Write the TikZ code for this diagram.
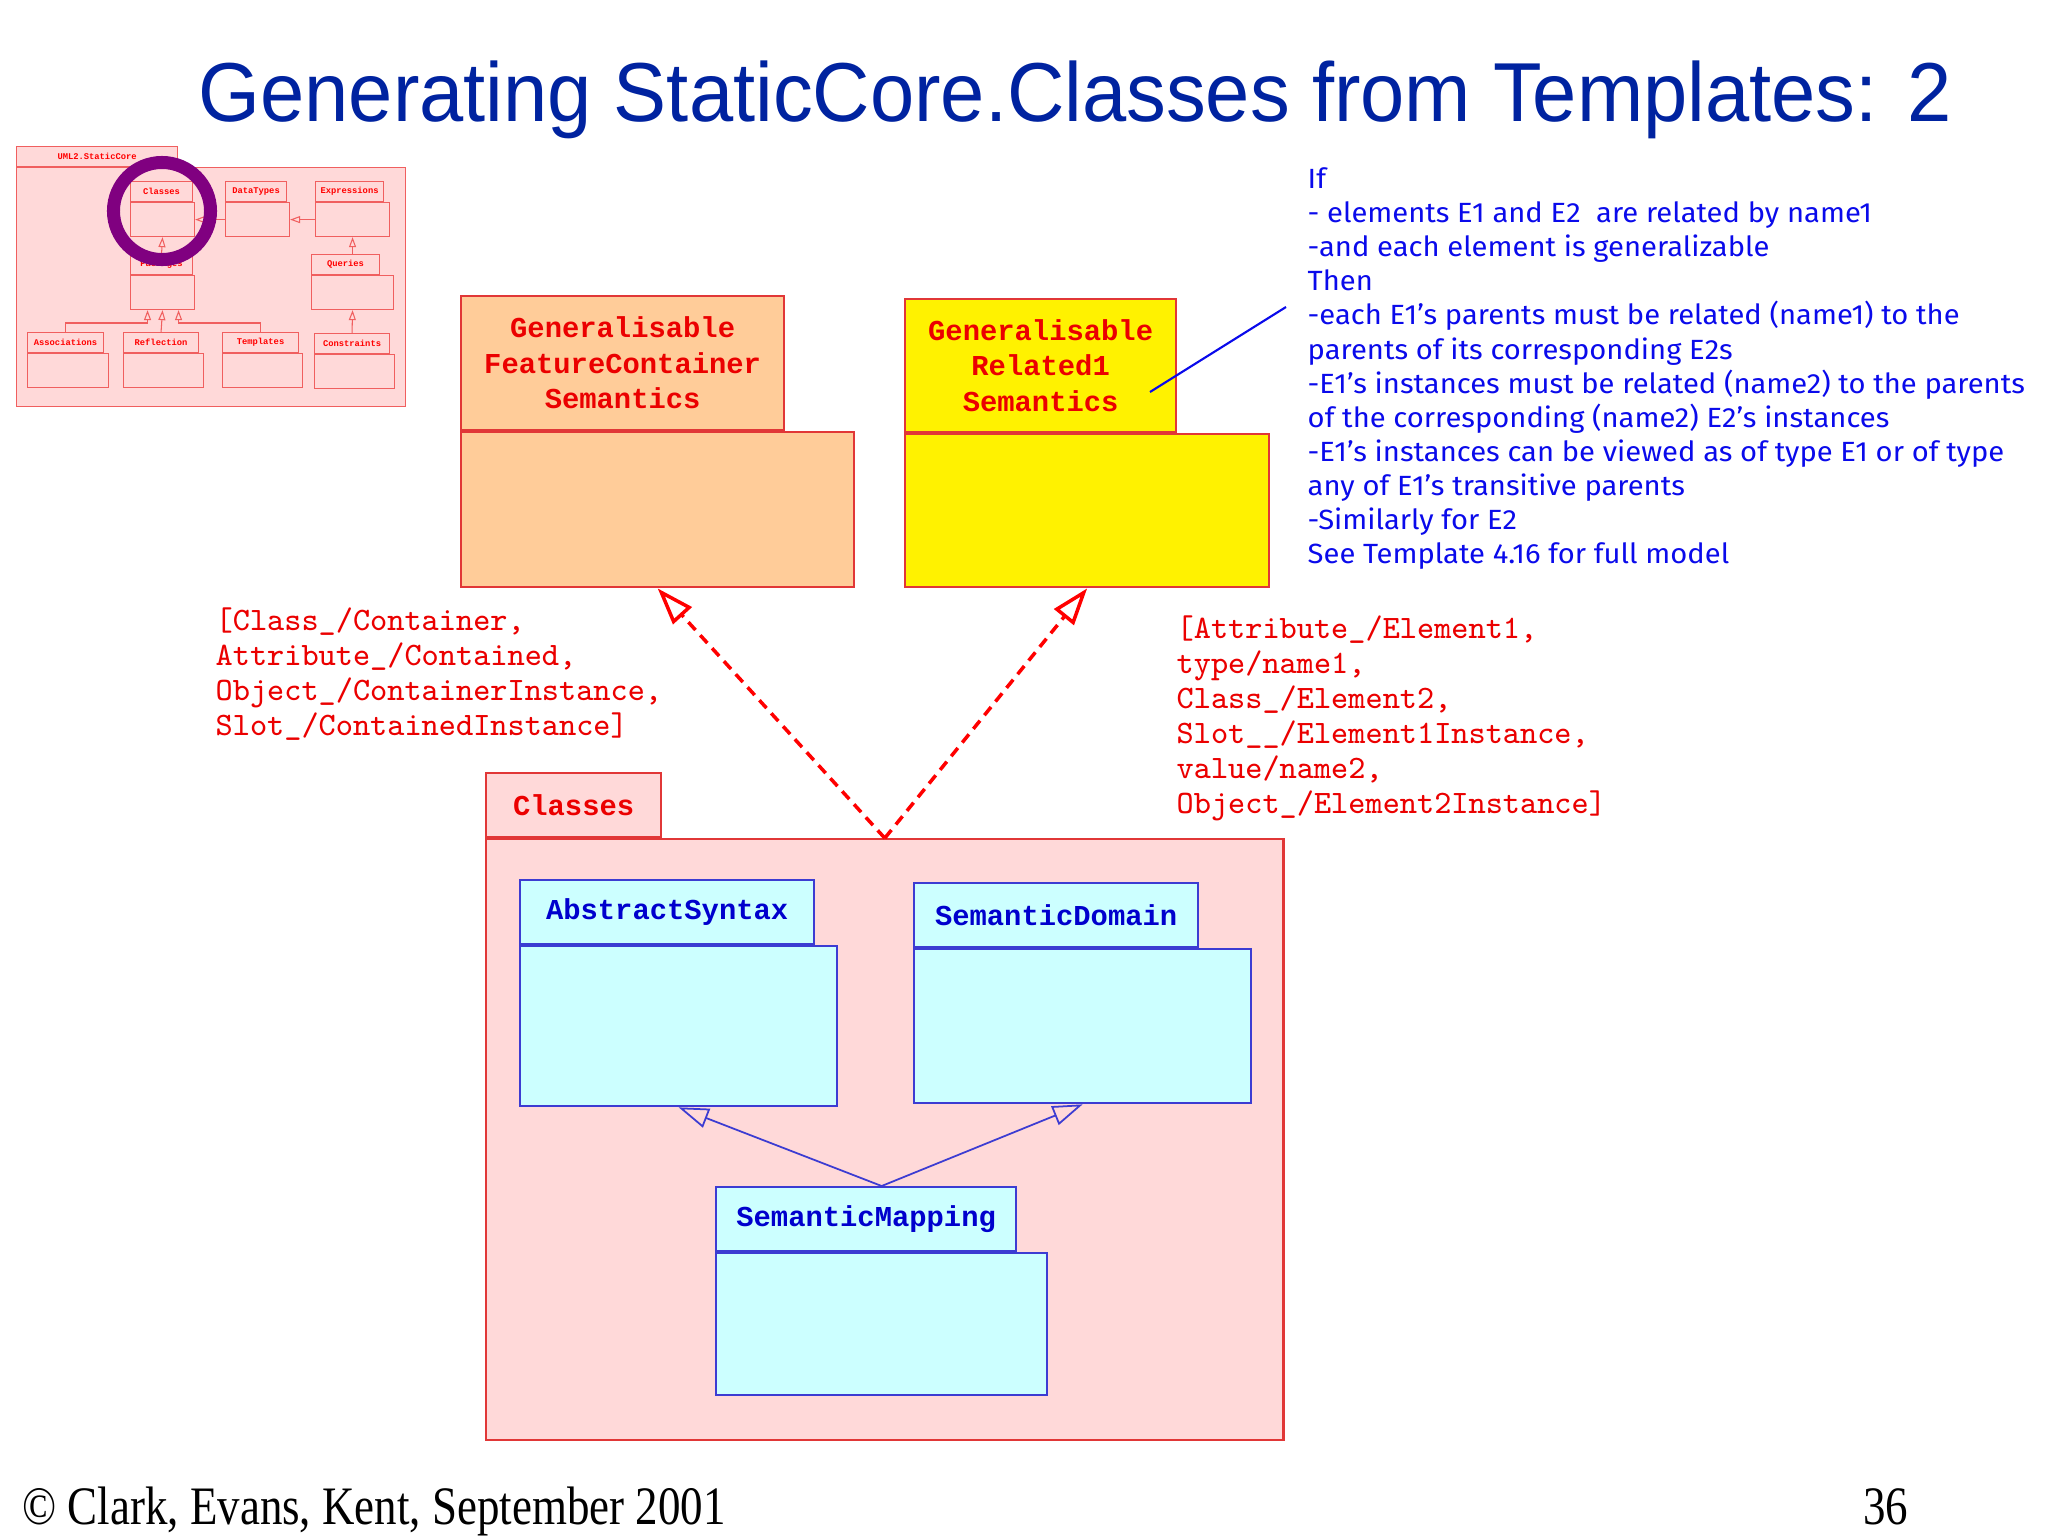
\documentclass[tikz,border=0pt]{standalone}
\usepackage{fontspec}
\setmainfont{Liberation Serif}
\newfontfamily\boldmono{Liberation Mono}
\newfontfamily\titlefont[FakeStretch=0.95]{Liberation Sans}
\newfontfamily\footfont[FakeStretch=0.83]{Liberation Serif}
\newfontfamily\notefont[FakeStretch=1.05]{Fira Sans}
\usetikzlibrary{arrows.meta, calc}
\definecolor{titleblue}{RGB}{0,35,160}
\definecolor{pkgred}{RGB}{225,55,55}
\definecolor{pkgblue}{RGB}{60,60,210}
\definecolor{labelred}{RGB}{235,0,0}
\definecolor{labelblue}{RGB}{0,0,205}
\definecolor{noteblue}{RGB}{10,10,235}
\definecolor{tanfill}{RGB}{255,204,153}
\definecolor{pinkfill}{RGB}{255,217,217}
\definecolor{cyanfill}{RGB}{204,255,255}
\definecolor{ringpurple}{RGB}{128,0,128}
\definecolor{thumbred}{RGB}{240,95,95}

\begin{document}
\begin{tikzpicture}[x=0.01cm, y=-0.01cm,
  pkgtab/.style={draw=pkgred, line width=0.6pt, inner sep=0pt, anchor=north west, align=center, text=labelred, font=\boldmono\bfseries\fontsize{8.2}{10.1}\selectfont},
  pkgbody/.style={draw=pkgred, line width=0.6pt, inner sep=0pt, anchor=north west},
  bluetab/.style={pkgtab, draw=pkgblue, fill=cyanfill, text=labelblue, minimum height=0.64cm},
  bluebody/.style={pkgbody, draw=pkgblue, fill=cyanfill},
  tinytab/.style={draw=thumbred, line width=0.3pt, fill=pinkfill, inner sep=0pt, anchor=north west, minimum height=0.20cm, text=red, font=\boldmono\bfseries\fontsize{2.5}{3}\selectfont},
  tinybody/.style={draw=thumbred, line width=0.3pt, fill=pinkfill, inner sep=0pt, anchor=north west},
  binding/.style={inner sep=0pt, anchor=north west, align=left, text=labelred, font=\ttfamily\fontsize{9.3}{9.95}\selectfont},
  realise/.style={draw=red, line width=1pt, dash pattern=on 3pt off 2pt, -{Triangle[open, length=0.37cm, width=0.25cm]}},
  inherit/.style={draw=pkgblue, line width=0.5pt, -{Triangle[open, length=0.3cm, width=0.2cm]}},
  tinyinherit/.style={draw=thumbred, line width=0.3pt, -{Triangle[open, length=0.1cm, width=0.07cm]}}]
  \fill[white] (0,0) rectangle (2048,1536);
  \useasboundingbox (0,0) rectangle (2048,1536);

  \node[anchor=base, text=titleblue, font=\titlefont\fontsize{23.8}{26}\selectfont] (title) at (1075,121) {Generating StaticCore.Classes from Templates: 2};

  % thumbnail of UML2.StaticCore
  \node[tinytab, minimum width=1.61cm] (coretab) at (16,146) {UML2.StaticCore};
  \node[tinybody, minimum width=3.89cm, minimum height=2.39cm] (corebody) at (coretab.south west) {};
  \foreach \nm/\px/\py/\tw/\bw in {Classes/130/181/0.62/0.64, DataTypes/225/181/0.61/0.64, Expressions/315/181/0.68/0.74,
      Packages/130/254/0.62/0.64, Queries/311/254/0.68/0.82, Associations/27/332/0.76/0.81,
      Reflection/123/332/0.75/0.80, Templates/222/332/0.76/0.80, Constraints/314/333/0.75/0.80} {
    \node[tinytab, minimum width=\tw cm] (t\nm) at (\px,\py) {\nm};
    \node[tinybody, minimum width=\bw cm, minimum height=0.34cm] (b\nm) at (t\nm.south west) {};
  }
  \draw[tinyinherit] (bDataTypes.west) -- (bClasses.east);
  \draw[tinyinherit] (bExpressions.west) -- (bDataTypes.east);
  \draw[tinyinherit] (tPackages.north) -- (bClasses.south);
  \draw[tinyinherit] (bExpressions.south |- tQueries.north) -- (bExpressions.south);
  \draw[tinyinherit] (tConstraints.north) -- (bQueries.south);
  \draw[tinyinherit] (tReflection.north) -- (bPackages.south);
  \draw[tinyinherit] (tAssociations.north) -- ++(0,-9) -| ([xshift=-0.15cm]bPackages.south);
  \draw[tinyinherit] (tTemplates.north) -- ++(0,-9) -| ([xshift=0.16cm]bPackages.south);
  \node[circle, draw=ringpurple, line width=3.7pt, minimum size=0.97cm, inner sep=0pt] (focus) at (162,211) {};

  % template packages
  \node[pkgtab, fill=tanfill, minimum width=3.23cm, minimum height=1.34cm] (gfctab) at (460,295) {Generalisable\\FeatureContainer\\Semantics};
  \node[pkgbody, fill=tanfill, minimum width=3.93cm, minimum height=1.55cm] (gfcbody) at (gfctab.south west) {};
  \node[pkgtab, fill=yellow, minimum width=2.71cm, minimum height=1.33cm] (reltab) at (904,298) {Generalisable\\Related1\\Semantics};
  \node[pkgbody, fill=yellow, minimum width=3.64cm, minimum height=1.53cm] (relbody) at (reltab.south west) {};

  % Classes package
  \node[pkgtab, fill=pinkfill, minimum width=1.75cm, minimum height=0.64cm] (clstab) at (485,772) {Classes};
  \node[pkgbody, fill=pinkfill, minimum width=7.97cm, minimum height=6.00cm] (clsbody) at (clstab.south west) {};
  \node[bluetab, minimum width=2.94cm] (abstab) at (519,879) {AbstractSyntax};
  \node[bluebody, minimum width=3.17cm, minimum height=1.60cm] (absbody) at (abstab.south west) {};
  \node[bluetab, minimum width=2.84cm] (domtab) at (913,882) {SemanticDomain};
  \node[bluebody, minimum width=3.37cm, minimum height=1.54cm] (dombody) at (domtab.south west) {};
  \node[bluetab, minimum width=3.00cm] (maptab) at (715,1186) {SemanticMapping};
  \node[bluebody, minimum width=3.31cm, minimum height=1.42cm] (mapbody) at (maptab.south west) {};
  \draw[inherit] (mapbody.north |- maptab.north) -- (absbody.south);
  \draw[inherit] (mapbody.north |- maptab.north) -- (dombody.south);

  \draw[realise] (clsbody.north) -- (gfcbody.south);
  \draw[realise] (clsbody.north) -- (relbody.south);

  \node[binding] (gfcbind) at (215,607) {[Class\_/Container,\\Attribute\_/Contained,\\Object\_/ContainerInstance,\\Slot\_/ContainedInstance]};
  \node[binding] (relbind) at (1176,615) {[Attribute\_/Element1,\\type/name1,\\Class\_/Element2,\\Slot\_\_/Element1Instance,\\value/name2,\\Object\_/Element2Instance]};

  % note on Related1
  \node[inner sep=0pt, anchor=north west, align=left, text=noteblue, font=\notefont\fontsize{7.9}{9.7}\selectfont] (note) at (1307,167) {If\\- elements E1 and E2\ \ are related by name1\\-and each element is generalizable\\Then\\-each E1’s parents must be related (name1) to the\\parents of its corresponding E2s\\-E1’s instances must be related (name2) to the parents\\of the corresponding (name2) E2’s instances\\-E1’s instances can be viewed as of type E1 or of type\\any of E1’s transitive parents\\-Similarly for E2\\See Template 4.16 for full model};
  \coordinate (calloutfoot) at (1150,392);
  \coordinate (callouthead) at (1286,307);
  \draw[noteblue, line width=0.6pt] (calloutfoot) -- (callouthead);

  \node[anchor=base west, font=\footfont\fontsize{15.4}{17}\selectfont] (credit) at (10,1524) {© Clark, Evans, Kent, September 2001};
  \node[anchor=base west, font=\footfont\fontsize{15.4}{17}\selectfont] (pageno) at (1851,1524) {36};
\end{tikzpicture}
\end{document}
